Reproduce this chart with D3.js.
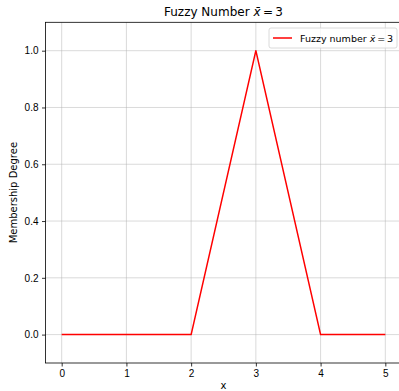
<!DOCTYPE html>
<html>
<head>
<meta charset="utf-8">
<script src="https://cdn.jsdelivr.net/npm/d3@7"></script>
<style>
  body { margin: 0; background: #fff; }
  svg { display: block; font-family: "DejaVu Sans", sans-serif; }
</style>
</head>
<body>
<div id="chart"></div>
<script>
// membership function vertices
const xValues = [0, 2, 3, 4, 5];
const membership = [0, 0, 1, 0, 0];
const xTicks = [0, 1, 2, 3, 4, 5];
const yTicks = [0.0, 0.2, 0.4, 0.6, 0.8, 1.0];

const W = 399, H = 391;
const margin = { top: 22.3, right: -2.5, bottom: 28, left: 45.5 };
const width = W - margin.left - margin.right;
const height = H - margin.top - margin.bottom;

const svg = d3.select('#chart')
  .append('svg')
  .attr('width', W)
  .attr('height', H);

const g = svg.append('g')
  .attr('transform', `translate(${margin.left},${margin.top})`);

const x = d3.scaleLinear().domain([-0.25, 5.25]).range([0, width]);
const y = d3.scaleLinear().domain([-0.1, 1.1]).range([height, 0]);

// grid
g.append('g')
  .selectAll('line')
  .data(xTicks)
  .join('line')
  .attr('x1', d => x(d)).attr('x2', d => x(d))
  .attr('y1', 0).attr('y2', height)
  .attr('stroke', '#b0b0b0').attr('stroke-opacity', 0.6).attr('stroke-width', 0.8);

g.append('g')
  .selectAll('line')
  .data(yTicks)
  .join('line')
  .attr('x1', 0).attr('x2', width)
  .attr('y1', d => y(d)).attr('y2', d => y(d))
  .attr('stroke', '#b0b0b0').attr('stroke-opacity', 0.6).attr('stroke-width', 0.8);

// axes
g.append('g')
  .attr('transform', `translate(0,${height})`)
  .call(d3.axisBottom(x).tickValues(xTicks).tickFormat(d3.format('d')).tickSize(3.5).tickPadding(3.5).tickSizeOuter(0))
  .call(g => g.select('.domain').remove())
  .call(g => g.selectAll('.tick line').attr('stroke', '#000').attr('stroke-width', 0.8))
  .call(g => g.selectAll('.tick text').attr('fill', '#000').style('font-size', '10px'));

g.append('g')
  .call(d3.axisLeft(y).tickValues(yTicks).tickFormat(d3.format('.1f')).tickSize(3.5).tickPadding(3.5).tickSizeOuter(0))
  .call(g => g.select('.domain').remove())
  .call(g => g.selectAll('.tick line').attr('stroke', '#000').attr('stroke-width', 0.8))
  .call(g => g.selectAll('.tick text').attr('fill', '#000').style('font-size', '10px'));

// spines
g.append('rect')
  .attr('x', 0).attr('y', 0)
  .attr('width', width).attr('height', height)
  .attr('fill', 'none')
  .attr('stroke', '#000')
  .attr('stroke-width', 0.8);

// data line
const line = d3.line()
  .x((d, i) => x(xValues[i]))
  .y(d => y(d));

g.append('path')
  .datum(membership)
  .attr('fill', 'none')
  .attr('stroke', 'red')
  .attr('stroke-width', 1.5)
  .attr('stroke-linejoin', 'round')
  .attr('d', line);

// labels
svg.append('text')
  .attr('x', margin.left + width / 2)
  .attr('y', 16)
  .attr('text-anchor', 'middle')
  .style('font-size', '12px')
  .attr('fill', '#000')
  .call(t => {
    t.append('tspan').text('Fuzzy Number ');
    t.append('tspan').attr('font-style', 'italic').text('x\u0304');
    t.append('tspan').text('\u2009=\u20093');
  });

svg.append('text')
  .attr('x', margin.left + width / 2)
  .attr('y', 389)
  .attr('text-anchor', 'middle')
  .style('font-size', '10px')
  .attr('fill', '#000')
  .text('x');

svg.append('text')
  .attr('transform', `translate(17,${margin.top + height / 2}) rotate(-90)`)
  .attr('text-anchor', 'middle')
  .style('font-size', '10px')
  .attr('fill', '#000')
  .text('Membership Degree');

// legend
const legend = svg.append('g').attr('transform', 'translate(269,28)');
legend.append('rect')
  .attr('width', 128).attr('height', 20).attr('rx', 2)
  .attr('fill', '#fff').attr('fill-opacity', 0.8)
  .attr('stroke', '#d0d0d0').attr('stroke-width', 0.8);
legend.append('line')
  .attr('x1', 4).attr('x2', 23).attr('y1', 10).attr('y2', 10)
  .attr('stroke', 'red').attr('stroke-width', 1.5);
legend.append('text')
  .attr('x', 31).attr('y', 13.5)
  .style('font-size', '9.5px')
  .attr('fill', '#000')
  .call(t => {
    t.append('tspan').text('Fuzzy number ');
    t.append('tspan').attr('font-style', 'italic').text('x\u0304');
    t.append('tspan').text('\u2009=\u20093');
  });
</script>
</body>
</html>
